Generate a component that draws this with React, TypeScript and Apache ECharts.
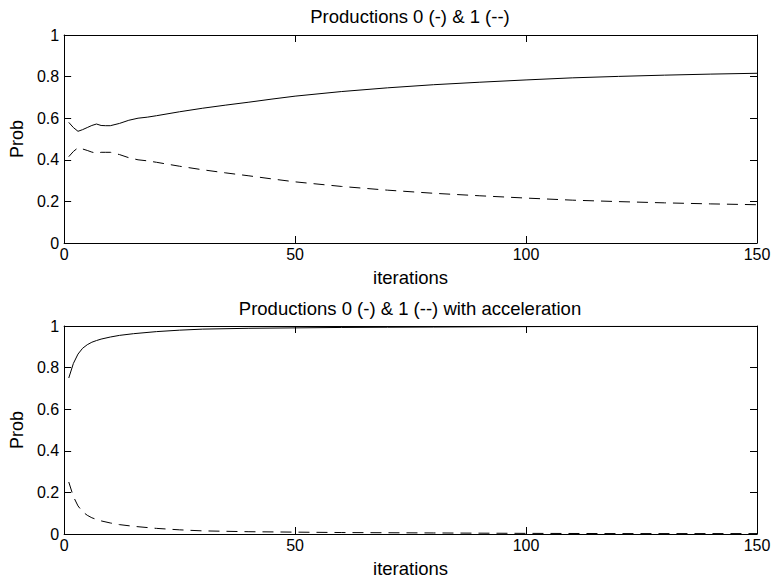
import React, { useEffect, useRef } from "react";
import * as echarts from "echarts";

const xTickLabels = ["0", "50", "100", "150"];
const yTickLabels = ["0", "0.2", "0.4", "0.6", "0.8", "1"];

const titles = ["Productions 0 (-) & 1 (--)", "Productions 0 (-) & 1 (--) with acceleration"];
const xName = "iterations";
const yName = "Prob";

// Top panel: production probabilities without acceleration
const topIter = [1, 2, 3, 4, 5, 6, 7, 8, 9, 10, 12, 14, 16, 18, 20, 25, 30, 35, 40, 45, 50, 60, 70, 80, 90, 100, 110, 120, 130, 140, 150];
const topSolid = [0.58, 0.555, 0.537, 0.545, 0.555, 0.565, 0.572, 0.565, 0.564, 0.564, 0.575, 0.59, 0.6, 0.605, 0.612, 0.631, 0.648, 0.663, 0.677, 0.692, 0.706, 0.728, 0.746, 0.761, 0.773, 0.784, 0.794, 0.801, 0.807, 0.812, 0.816];
const topDashed = [0.415, 0.44, 0.458, 0.452, 0.445, 0.437, 0.432, 0.436, 0.436, 0.436, 0.425, 0.41, 0.4, 0.395, 0.388, 0.369, 0.352, 0.337, 0.323, 0.308, 0.294, 0.272, 0.254, 0.239, 0.227, 0.216, 0.206, 0.199, 0.193, 0.188, 0.184];

// Bottom panel: with acceleration
const botIter = [1, 2, 3, 4, 5, 6, 7, 8, 10, 12, 15, 20, 25, 30, 40, 50, 60, 70, 80, 100, 120, 150];
const botSolid = [0.75, 0.82, 0.865, 0.893, 0.91, 0.922, 0.93, 0.937, 0.947, 0.955, 0.963, 0.973, 0.98, 0.985, 0.989, 0.991, 0.993, 0.994, 0.995, 0.997, 0.998, 0.998];
const botDashed = [0.25, 0.18, 0.135, 0.107, 0.09, 0.078, 0.07, 0.063, 0.053, 0.045, 0.037, 0.027, 0.02, 0.015, 0.011, 0.009, 0.007, 0.006, 0.005, 0.003, 0.002, 0.002];

const FONT = "'Liberation Sans', Arial, Helvetica, sans-serif";

const pairs = (xs: number[], ys: number[]) => xs.map((x, i) => [x, ys[i]]);

export default function App() {
  const ref = useRef<HTMLDivElement>(null);
  useEffect(() => {
    if (!ref.current) return;
    const chart = echarts.init(ref.current, undefined, { renderer: "svg" });
    const gridTops = [35, 326];
    const grids = gridTops.map((t) => ({ left: 64, right: 18, top: t, height: 208, containLabel: false }));

    const lineCommon = { show: true, onZero: false, lineStyle: { color: "#000", width: 1 } };
    const tickCommon = { show: true, inside: true, length: 7, lineStyle: { color: "#000", width: 1 } };
    const lblStyle = { color: "#000", fontSize: 16, fontFamily: FONT };

    const xAxes: any[] = [];
    const yAxes: any[] = [];
    gridTops.forEach((_, g) => {
      xAxes.push({
        type: "value", gridIndex: g, position: "bottom", min: 0, max: 150, interval: 50,
        axisLine: lineCommon, axisTick: tickCommon, splitLine: { show: false },
        axisLabel: { ...lblStyle, margin: 3, formatter: (v: number) => xTickLabels[Math.round(v / 50)] ?? String(v) },
        name: xName, nameLocation: "middle", nameGap: 25,
        nameTextStyle: { color: "#000", fontSize: 18.5, fontFamily: FONT },
      });
      xAxes.push({
        type: "value", gridIndex: g, position: "top", min: 0, max: 150, interval: 50,
        axisLine: lineCommon, axisTick: tickCommon, splitLine: { show: false }, axisLabel: { show: false },
      });
      yAxes.push({
        type: "value", gridIndex: g, position: "left", min: 0, max: 1, interval: 0.2,
        axisLine: lineCommon, axisTick: tickCommon, splitLine: { show: false },
        axisLabel: { ...lblStyle, margin: 5, formatter: (v: number) => yTickLabels[Math.round(v / 0.2)] ?? String(v) },
        name: yName, nameLocation: "middle", nameGap: 30, nameRotate: 90,
        nameTextStyle: { color: "#000", fontSize: 18, fontFamily: FONT },
      });
      yAxes.push({
        type: "value", gridIndex: g, position: "right", min: 0, max: 1, interval: 0.2,
        axisLine: lineCommon, axisTick: tickCommon, splitLine: { show: false }, axisLabel: { show: false },
      });
    });

    const mk = (name: string, data: number[][], axisIdx: number, dashed: boolean) => ({
      name, type: "line", xAxisIndex: axisIdx, yAxisIndex: axisIdx, data,
      showSymbol: false, symbol: "none", smooth: false,
      lineStyle: { color: "#000", width: 1, type: dashed ? [11, 7] : "solid" },
      z: 3,
    });

    chart.setOption({
      animation: false,
      backgroundColor: "#fff",
      grid: grids,
      xAxis: xAxes,
      yAxis: yAxes,
      series: [
        mk("Production 0", pairs(topIter, topSolid), 0, false),
        mk("Production 1", pairs(topIter, topDashed), 0, true),
        mk("Production 0 (acceleration)", pairs(botIter, botSolid), 2, false),
        mk("Production 1 (acceleration)", pairs(botIter, botDashed), 2, true),
      ],
      graphic: [
        { type: "text", x: 410, y: 16, style: { text: titles[0], fill: "#000", font: `18.5px ${FONT}`, textAlign: "center", textVerticalAlign: "middle" } },
        { type: "text", x: 410, y: 308, style: { text: titles[1], fill: "#000", font: `18.5px ${FONT}`, textAlign: "center", textVerticalAlign: "middle" } },
      ],
    });
    return () => chart.dispose();
  }, []);
  return <div ref={ref} style={{ position: "fixed", left: 0, top: 0, width: 775, height: 580, background: "#fff" }} />;
}
